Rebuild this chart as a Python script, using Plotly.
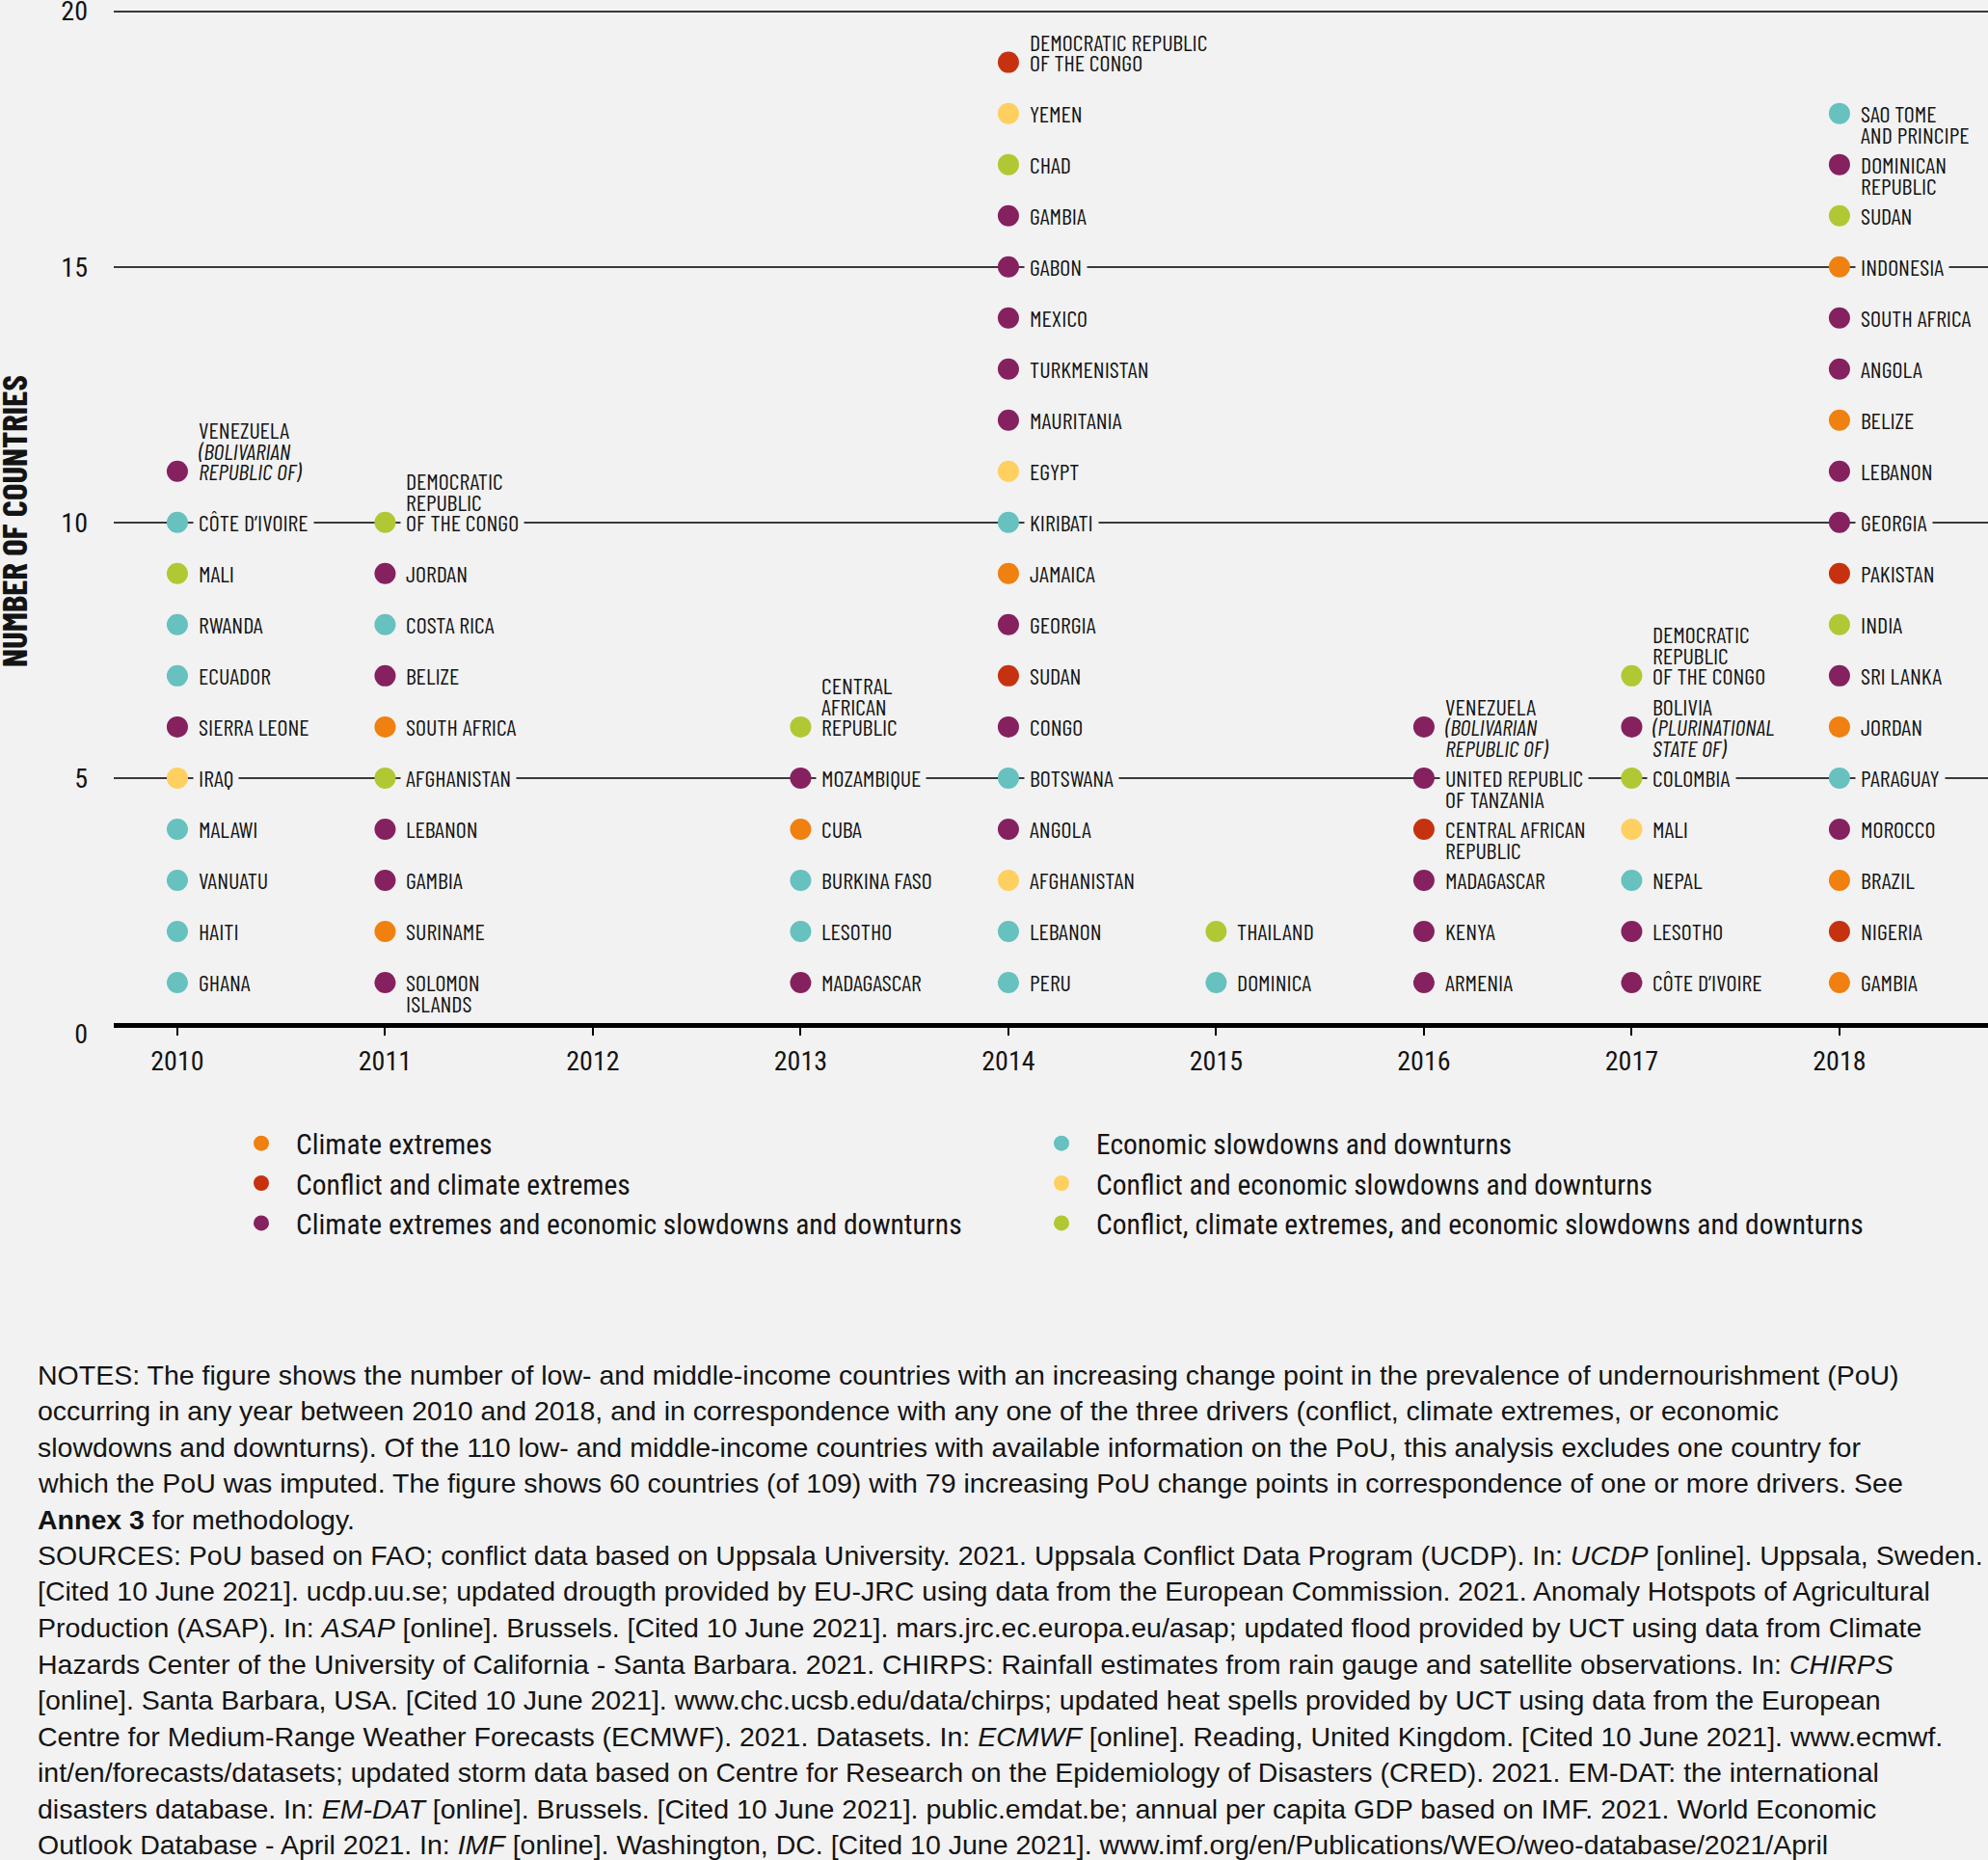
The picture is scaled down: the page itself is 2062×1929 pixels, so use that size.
import plotly.graph_objects as go

# ---------------- data ----------------
YEAR_TICKS = [2010, 2011, 2012, 2013, 2014, 2015, 2016, 2017, 2018]
Y_TICKS = [0, 5, 10, 15, 20]

DRIVER_NAMES = {
    "clim": "Climate extremes",
    "conf_clim": "Conflict and climate extremes",
    "clim_econ": "Climate extremes and economic slowdowns and downturns",
    "econ": "Economic slowdowns and downturns",
    "conf_econ": "Conflict and economic slowdowns and downturns",
    "all3": "Conflict, climate extremes, and economic slowdowns and downturns",
}
LEGEND_COL1 = ["clim", "conf_clim", "clim_econ"]
LEGEND_COL2 = ["econ", "conf_econ", "all3"]

# countries listed from the bottom (count 1) upwards
countries_2010 = ["GHANA", "HAITI", "VANUATU", "MALAWI", "IRAQ", "SIERRA LEONE", "ECUADOR",
                  "RWANDA", "MALI", "CÔTE D’IVOIRE",
                  "VENEZUELA<br><i>(BOLIVARIAN</i><br><i>REPUBLIC OF)</i>"]
drivers_2010 = ["econ", "econ", "econ", "econ", "conf_econ", "clim_econ", "econ",
                "econ", "all3", "econ", "clim_econ"]

countries_2011 = ["SOLOMON<br>ISLANDS", "SURINAME", "GAMBIA", "LEBANON", "AFGHANISTAN",
                  "SOUTH AFRICA", "BELIZE", "COSTA RICA", "JORDAN",
                  "DEMOCRATIC<br>REPUBLIC<br>OF THE CONGO"]
drivers_2011 = ["clim_econ", "clim", "clim_econ", "clim_econ", "all3",
                "clim", "clim_econ", "econ", "clim_econ", "all3"]

countries_2012 = []
drivers_2012 = []

countries_2013 = ["MADAGASCAR", "LESOTHO", "BURKINA FASO", "CUBA", "MOZAMBIQUE",
                  "CENTRAL<br>AFRICAN<br>REPUBLIC"]
drivers_2013 = ["clim_econ", "econ", "econ", "clim", "clim_econ", "all3"]

countries_2014 = ["PERU", "LEBANON", "AFGHANISTAN", "ANGOLA", "BOTSWANA", "CONGO", "SUDAN",
                  "GEORGIA", "JAMAICA", "KIRIBATI", "EGYPT", "MAURITANIA", "TURKMENISTAN",
                  "MEXICO", "GABON", "GAMBIA", "CHAD", "YEMEN",
                  "DEMOCRATIC REPUBLIC<br>OF THE CONGO"]
drivers_2014 = ["econ", "econ", "conf_econ", "clim_econ", "econ", "clim_econ", "conf_clim",
                "clim_econ", "clim", "econ", "conf_econ", "clim_econ", "clim_econ",
                "clim_econ", "clim_econ", "clim_econ", "all3", "conf_econ", "conf_clim"]

countries_2015 = ["DOMINICA", "THAILAND"]
drivers_2015 = ["econ", "all3"]

countries_2016 = ["ARMENIA", "KENYA", "MADAGASCAR", "CENTRAL AFRICAN<br>REPUBLIC",
                  "UNITED REPUBLIC<br>OF TANZANIA",
                  "VENEZUELA<br><i>(BOLIVARIAN</i><br><i>REPUBLIC OF)</i>"]
drivers_2016 = ["clim_econ", "clim_econ", "clim_econ", "conf_clim", "clim_econ", "clim_econ"]

countries_2017 = ["CÔTE D’IVOIRE", "LESOTHO", "NEPAL", "MALI", "COLOMBIA",
                  "BOLIVIA<br><i>(PLURINATIONAL</i><br><i>STATE OF)</i>",
                  "DEMOCRATIC<br>REPUBLIC<br>OF THE CONGO"]
drivers_2017 = ["clim_econ", "clim_econ", "econ", "conf_econ", "all3", "clim_econ", "all3"]

countries_2018 = ["GAMBIA", "NIGERIA", "BRAZIL", "MOROCCO", "PARAGUAY", "JORDAN", "SRI LANKA",
                  "INDIA", "PAKISTAN", "GEORGIA", "LEBANON", "BELIZE", "ANGOLA",
                  "SOUTH AFRICA", "INDONESIA", "SUDAN", "DOMINICAN<br>REPUBLIC",
                  "SAO TOME<br>AND PRINCIPE"]
drivers_2018 = ["clim", "conf_clim", "clim", "clim_econ", "econ", "clim", "clim_econ",
                "all3", "conf_clim", "clim_econ", "clim_econ", "clim", "clim_econ",
                "clim_econ", "clim", "all3", "clim_econ", "econ"]

NOTES_LINES = [
    "NOTES: The figure shows the number of low- and middle-income countries with an increasing change point in the prevalence of undernourishment (PoU)",
    "occurring in any year between 2010 and 2018, and in correspondence with any one of the three drivers (conflict, climate extremes, or economic",
    "slowdowns and downturns). Of the 110 low- and middle-income countries with available information on the PoU, this analysis excludes one country for",
    "which the PoU was imputed. The figure shows 60 countries (of 109) with 79 increasing PoU change points in correspondence of one or more drivers. See",
    "<b>Annex 3</b> for methodology.",
    "SOURCES: PoU based on FAO; conflict data based on Uppsala University. 2021. Uppsala Conflict Data Program (UCDP). In: <i>UCDP</i> [online]. Uppsala, Sweden.",
    "[Cited 10 June 2021]. ucdp.uu.se; updated drougth provided by EU-JRC using data from the European Commission. 2021. Anomaly Hotspots of Agricultural",
    "Production (ASAP). In: <i>ASAP</i> [online]. Brussels. [Cited 10 June 2021]. mars.jrc.ec.europa.eu/asap; updated flood provided by UCT using data from Climate",
    "Hazards Center of the University of California - Santa Barbara. 2021. CHIRPS: Rainfall estimates from rain gauge and satellite observations. In: <i>CHIRPS</i>",
    "[online]. Santa Barbara, USA. [Cited 10 June 2021]. www.chc.ucsb.edu/data/chirps; updated heat spells provided by UCT using data from the European",
    "Centre for Medium-Range Weather Forecasts (ECMWF). 2021. Datasets. In: <i>ECMWF</i> [online]. Reading, United Kingdom. [Cited 10 June 2021]. www.ecmwf.",
    "int/en/forecasts/datasets; updated storm data based on Centre for Research on the Epidemiology of Disasters (CRED). 2021. EM-DAT: the international",
    "disasters database. In: <i>EM-DAT</i> [online]. Brussels. [Cited 10 June 2021]. public.emdat.be; annual per capita GDP based on IMF. 2021. World Economic",
    "Outlook Database - April 2021. In: <i>IMF</i> [online]. Washington, DC. [Cited 10 June 2021]. www.imf.org/en/Publications/WEO/weo-database/2021/April",
]

# ---------------- styles ----------------
BG = "#f2f2f2"
INK = "#141414"
COND = "Barlow Condensed, PT Sans Narrow, Roboto Condensed, sans-serif"
TICK_FONT = "Roboto Condensed, Barlow Condensed, sans-serif"
LEG_FONT = "Roboto Condensed, Archivo Narrow, sans-serif"
NOTE_FONT = "Liberation Sans, Arial, sans-serif"
COLORS = {
    "clim": "#f0800f",
    "conf_clim": "#c6320f",
    "clim_econ": "#85215f",
    "econ": "#66c1bf",
    "conf_econ": "#ffd05f",
    "all3": "#b1c834",
}
# which line of a multi-line label sits level with its dot
LABEL_ANCHOR_LINE = {
    (2010, 11): 2, (2011, 10): 2, (2013, 6): 2, (2014, 19): 1,
    (2016, 6): 1, (2017, 7): 2, (2017, 6): 1,
}
LINE_STEP = 21.5
W, H = 2062, 1929
M_L, M_R, M_T, M_B = 118, 0, 10, 1929 - 1072
PLOT_W = W - M_L - M_R
PLOT_H = H - M_T - M_B

year_data = {
    2010: (countries_2010, drivers_2010),
    2011: (countries_2011, drivers_2011),
    2012: (countries_2012, drivers_2012),
    2013: (countries_2013, drivers_2013),
    2014: (countries_2014, drivers_2014),
    2015: (countries_2015, drivers_2015),
    2016: (countries_2016, drivers_2016),
    2017: (countries_2017, drivers_2017),
    2018: (countries_2018, drivers_2018),
}

fig = go.Figure()

points = {k: ([], [], []) for k in DRIVER_NAMES}
ann_level = []   # label lines level with a dot (background masks the grid line)
ann_other = []   # remaining lines of multi-line labels (drawn on top)
for year, (names, drivers) in year_data.items():
    for i, (name, drv) in enumerate(zip(names, drivers)):
        count = i + 1
        px, py, pt = points[drv]
        px.append(year)
        py.append(count)
        pt.append(name.replace("<br>", " ").replace("<i>", "").replace("</i>", ""))
        lines = name.split("<br>")
        anchor = LABEL_ANCHOR_LINE.get((year, count), 0)
        for j, line in enumerate(lines):
            a = dict(
                x=year, y=count, xref="x", yref="y", text=line, showarrow=False,
                xanchor="left", yanchor="middle", xshift=16,
                yshift=(anchor - j) * LINE_STEP, borderpad=5,
                font=dict(family=COND, size=24, color=INK),
            )
            if j == anchor:
                a["bgcolor"] = BG
                ann_level.append(a)
            else:
                ann_other.append(a)
annotations = ann_level + ann_other

for col, legend_id in ((LEGEND_COL1, "legend"), (LEGEND_COL2, "legend2")):
    for drv in col:
        px, py, pt = points[drv]
        fig.add_trace(go.Scatter(
            x=px, y=py, text=pt, mode="markers", name=DRIVER_NAMES[drv],
            legend=legend_id,
            marker=dict(size=22, color=COLORS[drv], line=dict(width=0)),
            hovertemplate="%{text}<extra></extra>", cliponaxis=False,
        ))

# y-axis title
annotations.append(dict(
    x=(13 - M_L) / PLOT_W, y=0.5, xref="paper", yref="paper",
    text="<b>NUMBER OF COUNTRIES</b>", textangle=-90, showarrow=False,
    xanchor="center", yanchor="middle",
    font=dict(family=COND, size=37, color=INK, weight="bold"),
))

# notes
for k, line in enumerate(NOTES_LINES):
    ypx = 1425.5 + k * 37.5
    annotations.append(dict(
        x=(37 - M_L) / PLOT_W, y=(H - M_B - ypx) / PLOT_H,
        xref="paper", yref="paper", text=line, showarrow=False,
        xanchor="left", yanchor="middle", align="left",
        font=dict(family=NOTE_FONT, size=28.5, color=INK),
    ))

legend_common = dict(
    orientation="v", xref="container", yref="container",
    xanchor="left", yanchor="top",
    font=dict(family=LEG_FONT, size=29.5, color=INK),
    itemwidth=62, bgcolor="rgba(0,0,0,0)", traceorder="normal",
    itemclick=False, itemdoubleclick=False, tracegroupgap=0,
)

fig.update_layout(
    width=W, height=H,
    margin=dict(l=M_L, r=M_R, t=M_T, b=M_B, pad=0, autoexpand=False),
    paper_bgcolor=BG, plot_bgcolor=BG,
    showlegend=True,
    legend=dict(legend_common, x=235 / W, y=1 - 1160 / H),
    legend2=dict(legend_common, x=1065 / W, y=1 - 1160 / H),
    xaxis=dict(
        range=[2009.694, 2018.715], tickmode="array", tickvals=YEAR_TICKS,
        ticktext=[str(y) for y in YEAR_TICKS],
        anchor="free", position=(1072 - 1063) / PLOT_H,
        showgrid=False, zeroline=False,
        showline=True, linecolor="#000000", linewidth=5,
        ticks="outside", ticklen=8, tickwidth=1.5, tickcolor="#000000",
        ticklabelstandoff=2, ticklabeloverflow="allow",
        tickfont=dict(family=TICK_FONT, size=28, color=INK),
        fixedrange=True, automargin=False,
    ),
    yaxis=dict(
        range=[0, 20.03], tickmode="array", tickvals=Y_TICKS,
        ticktext=[str(v) for v in Y_TICKS],
        showgrid=True, gridcolor="#3a3a3a", gridwidth=1.6,
        zeroline=False, showline=False, ticks="",
        ticklabelstandoff=26, ticklabeloverflow="allow",
        tickfont=dict(family=TICK_FONT, size=28, color=INK),
        fixedrange=True, automargin=False,
    ),
    annotations=annotations,
    hovermode="closest",
)

fig.write_html(
    "out.html",
    config={"displayModeBar": False},
    post_script="document.body.style.margin='0';document.body.style.background='#f2f2f2';",
)
